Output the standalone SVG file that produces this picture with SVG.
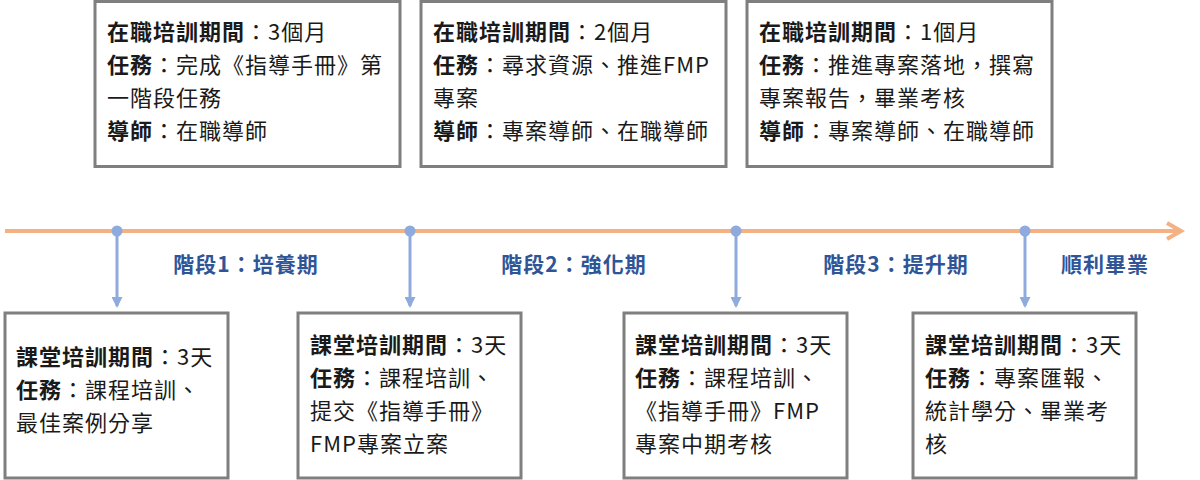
<svg xmlns="http://www.w3.org/2000/svg" width="1200" height="480" viewBox="0 0 1200 480">
<style>
.box{fill:#fff;stroke:#7f7f7f;stroke-width:3}
.t{font-family:"Microsoft JhengHei","Noto Sans CJK TC",sans-serif;font-size:22px;letter-spacing:1px;fill:#1a1a1a}
.b{font-weight:bold}
.lbl{font-family:"Noto Sans CJK TC",sans-serif;font-size:21px;font-weight:bold;fill:#2f5597;text-anchor:middle;letter-spacing:1px}
.tl{stroke:#f4b183;stroke-width:4;fill:none}
.vl{stroke:#8faadc;stroke-width:3}
</style>
<defs>
<marker id="ah" markerWidth="11" markerHeight="11" refX="9" refY="5.5" orient="auto" markerUnits="userSpaceOnUse" viewBox="0 0 11 11">
<path d="M0,0 L11,5.5 L0,11 Z" fill="#8faadc"/>
</marker>
</defs>
<g id="connectors">
<line class="tl" x1="5" y1="231" x2="1180" y2="231"/>
<polyline class="tl" points="1167,223 1181,231 1167,239"/>
<line class="vl" x1="117" y1="231" x2="117" y2="306" marker-end="url(#ah)"/>
<line class="vl" x1="410" y1="231" x2="410" y2="306" marker-end="url(#ah)"/>
<line class="vl" x1="736" y1="231" x2="736" y2="306" marker-end="url(#ah)"/>
<line class="vl" x1="1025" y1="231" x2="1025" y2="306" marker-end="url(#ah)"/>
<circle cx="117" cy="231" r="5.5" fill="#8faadc"/>
<circle cx="410" cy="231" r="5.5" fill="#8faadc"/>
<circle cx="736" cy="231" r="5.5" fill="#8faadc"/>
<circle cx="1025" cy="231" r="5.5" fill="#8faadc"/>
</g>
<g id="labels">
<text class="lbl" x="246" y="272">階段1：培養期</text>
<text class="lbl" x="574" y="272">階段2：強化期</text>
<text class="lbl" x="896" y="272">階段3：提升期</text>
<text class="lbl" x="1105" y="272">順利畢業</text>
</g>
<g id="top1">
<rect class="box" x="95" y="1.5" width="305" height="165"/>
<text class="t" x="107" y="40"><tspan class="b">在職培訓期間</tspan>：3個月</text>
<text class="t" x="107" y="73"><tspan class="b">任務</tspan>：完成《指導手冊》第</text>
<text class="t" x="107" y="106">一階段任務</text>
<text class="t" x="107" y="139"><tspan class="b">導師</tspan>：在職導師</text>
</g>
<g id="top2">
<rect class="box" x="421" y="1.5" width="305" height="165"/>
<text class="t" x="433" y="40"><tspan class="b">在職培訓期間</tspan>：2個月</text>
<text class="t" x="433" y="73"><tspan class="b">任務</tspan>：尋求資源、推進FMP</text>
<text class="t" x="433" y="106">專案</text>
<text class="t" x="433" y="139"><tspan class="b">導師</tspan>：專案導師、在職導師</text>
</g>
<g id="top3">
<rect class="box" x="747" y="1.5" width="305" height="165"/>
<text class="t" x="759" y="40"><tspan class="b">在職培訓期間</tspan>：1個月</text>
<text class="t" x="759" y="73"><tspan class="b">任務</tspan>：推進專案落地，撰寫</text>
<text class="t" x="759" y="106">專案報告，畢業考核</text>
<text class="t" x="759" y="139"><tspan class="b">導師</tspan>：專案導師、在職導師</text>
</g>
<g id="bot1">
<rect class="box" x="5" y="313" width="223" height="165"/>
<text class="t" x="16" y="365"><tspan class="b">課堂培訓期間</tspan>：3天</text>
<text class="t" x="16" y="398"><tspan class="b">任務</tspan>：課程培訓、</text>
<text class="t" x="16" y="431">最佳案例分享</text>
</g>
<g id="bot2">
<rect class="box" x="298" y="313" width="223" height="165"/>
<text class="t" x="310" y="353"><tspan class="b">課堂培訓期間</tspan>：3天</text>
<text class="t" x="310" y="386"><tspan class="b">任務</tspan>：課程培訓、</text>
<text class="t" x="310" y="419">提交《指導手冊》</text>
<text class="t" x="310" y="452">FMP專案立案</text>
</g>
<g id="bot3">
<rect class="box" x="624" y="313" width="223" height="165"/>
<text class="t" x="635" y="353"><tspan class="b">課堂培訓期間</tspan>：3天</text>
<text class="t" x="635" y="386"><tspan class="b">任務</tspan>：課程培訓、</text>
<text class="t" x="635" y="419">《指導手冊》FMP</text>
<text class="t" x="635" y="452">專案中期考核</text>
</g>
<g id="bot4">
<rect class="box" x="913" y="313" width="223" height="165"/>
<text class="t" x="925" y="353"><tspan class="b">課堂培訓期間</tspan>：3天</text>
<text class="t" x="925" y="386"><tspan class="b">任務</tspan>：專案匯報、</text>
<text class="t" x="925" y="419">統計學分、畢業考</text>
<text class="t" x="925" y="452">核</text>
</g>
</svg>
